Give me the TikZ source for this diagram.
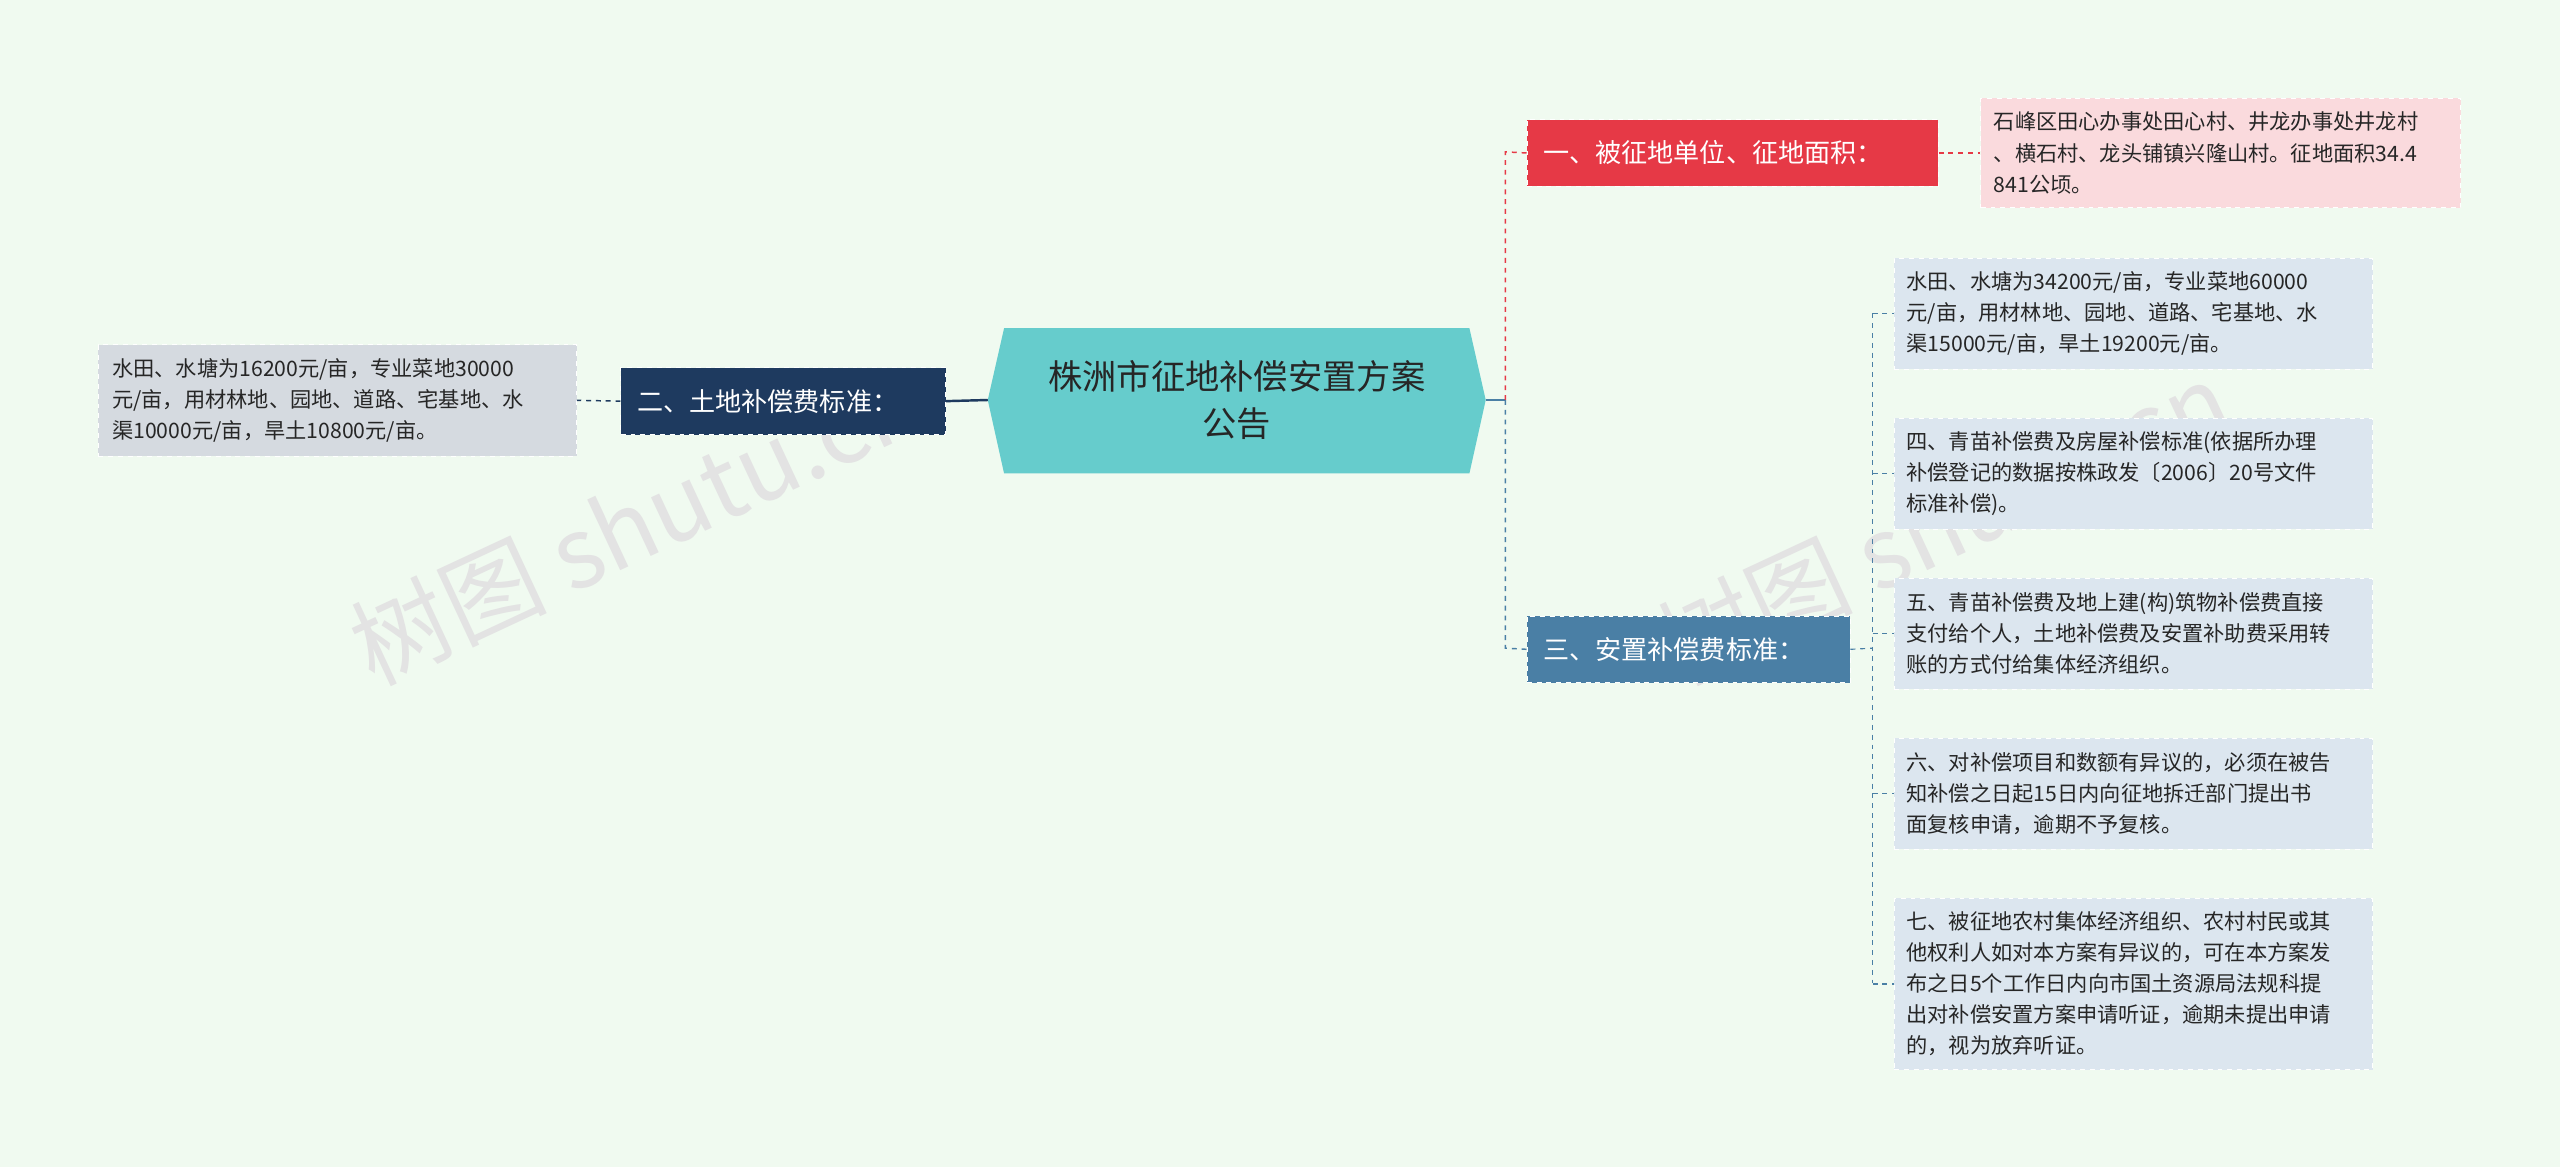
\documentclass[tikz,border=0pt]{standalone}
\usepackage{fontspec}
\setmainfont{Noto Sans CJK SC}
\definecolor{bg}{HTML}{F0FAF0}
\definecolor{cen}{HTML}{66CCCC}
\definecolor{navy}{HTML}{1E3A5F}
\definecolor{redb}{HTML}{E63946}
\definecolor{pinkb}{HTML}{FADADD}
\definecolor{steel}{HTML}{4A7FA5}
\definecolor{leafb}{HTML}{DCE6EF}
\definecolor{greyb}{HTML}{D5DAE0}
\tikzset{
  branch/.style={draw=white, dashed, text=white, font=\fontsize{16}{20}\selectfont, anchor=north west, inner xsep=10pt, inner ysep=0pt, align=left, minimum height=41pt},
  leaf/.style={draw=white, dashed, font=\fontsize{13}{19}\selectfont, anchor=north west, inner sep=0pt, align=left, text=black!85},
  conn/.style={dashed, line width=0.9pt},
  wm/.style={text=black!11, font=\fontsize{60}{60}\selectfont, rotate=25}
}
\begin{document}
\begin{tikzpicture}[x=1pt,y=-1pt]
\fill[bg] (0,0) rectangle (1568,715);
\useasboundingbox (0,0) rectangle (1568,715);
% watermarks
\node[wm] (w1) at (390,320) {树图 shutu.cn};
\node[wm] (w2) at (1190,320) {树图 shutu.cn};
% center
\fill[cen] (605,245) -- (615,201) -- (900,201) -- (910,245) -- (900,290) -- (615,290) -- cycle;
\node[font=\fontsize{21}{29}\selectfont, align=center, text=black!85] (c) at (757.5,245) {株洲市征地补偿安置方案\\公告};
\coordinate (cl) at (605,245); \coordinate (cr) at (910,245);
% left
\node[branch, fill=navy, text width=179pt] (b2) at (380,225) {二、土地补偿费标准：};
\node[leaf, fill=greyb, minimum width=293pt, minimum height=68pt] (l2) at (60,211) {\hspace{6pt}\parbox{282pt}{水田、水塘为16200元/亩，专业菜地30000\\元/亩，用材林地、园地、道路、宅基地、水\\渠10000元/亩，旱土10800元/亩。}};
\draw[navy, line width=1.5pt] (cl) -- (b2.east);
\draw[conn, navy] (b2.west) -- (l2.east);
% right top
\node[branch, fill=redb, text width=232pt] (b1) at (935,73) {一、被征地单位、征地面积：};
\node[leaf, fill=pinkb, minimum width=294pt, minimum height=67pt] (l1) at (1213,60) {\hspace{6pt}\parbox{284pt}{石峰区田心办事处田心村、井龙办事处井龙村\\、横石村、龙头铺镇兴隆山村。征地面积34.4\\841公顷。}};
\node[branch, fill=steel, text width=178pt] (b3) at (935,377) {三、安置补偿费标准：};
\coordinate (j) at (922,245);
\draw[steel, line width=1.2pt] (cr) -- (j);
\draw[conn, redb] (j) -- (922,93) -- (b1.west);
\draw[conn, steel] (j) -- (922,397) -- (b3.west);
\draw[conn, redb] (b1.east) -- (l1.west);
% leaves
\def\lw{293pt}
\node[leaf, fill=leafb, minimum width=\lw, minimum height=68pt] (a1) at (1160,158) {\hspace{6pt}\parbox{284pt}{水田、水塘为34200元/亩，专业菜地60000\\元/亩，用材林地、园地、道路、宅基地、水\\渠15000元/亩，旱土19200元/亩。}};
\node[leaf, fill=leafb, minimum width=\lw, minimum height=68pt] (a2) at (1160,256) {\hspace{6pt}\parbox{284pt}{四、青苗补偿费及房屋补偿标准(依据所办理\\补偿登记的数据按株政发〔2006〕20号文件\\标准补偿)。}};
\node[leaf, fill=leafb, minimum width=\lw, minimum height=68pt] (a3) at (1160,354) {\hspace{6pt}\parbox{284pt}{五、青苗补偿费及地上建(构)筑物补偿费直接\\支付给个人，土地补偿费及安置补助费采用转\\账的方式付给集体经济组织。}};
\node[leaf, fill=leafb, minimum width=\lw, minimum height=68pt] (a4) at (1160,452) {\hspace{6pt}\parbox{284pt}{六、对补偿项目和数额有异议的，必须在被告\\知补偿之日起15日内向征地拆迁部门提出书\\面复核申请，逾期不予复核。}};
\node[leaf, fill=leafb, minimum width=\lw, minimum height=105pt] (a5) at (1160,550) {\hspace{6pt}\parbox{284pt}{七、被征地农村集体经济组织、农村村民或其\\他权利人如对本方案有异议的，可在本方案发\\布之日5个工作日内向市国土资源局法规科提\\出对补偿安置方案申请听证，逾期未提出申请\\的，视为放弃听证。}};
\coordinate (k) at (1147,397);
\draw[conn, steel, line width=0.7pt] (b3.east) -- (k);
\draw[conn, steel, line width=0.7pt] (1147,192) -- (1147,602);
\foreach \n in {a1,a2,a3,a4,a5} \draw[conn, steel, line width=0.7pt] (1147,0 |- \n.west) -- (\n.west);
\end{tikzpicture}
\end{document}
